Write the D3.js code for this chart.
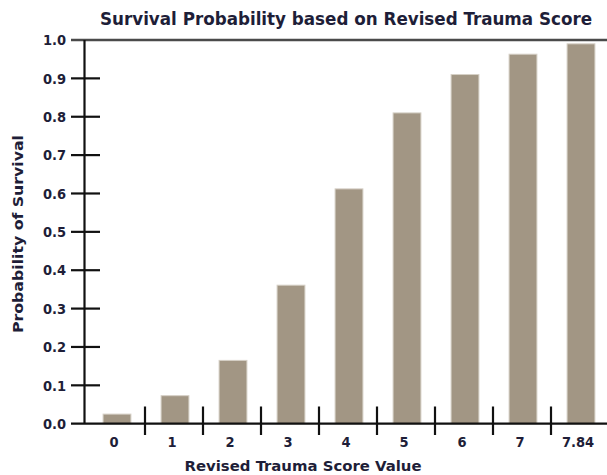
<!DOCTYPE html>
<html><head><meta charset="utf-8">
<script src="https://cdn.jsdelivr.net/npm/d3@7"></script>
<style>
html,body{margin:0;padding:0;background:#fff;}
text{font-family:"DejaVu Sans Condensed","Liberation Sans Narrow","DejaVu Sans",sans-serif;font-weight:bold;fill:#1e1e38;}
</style></head>
<body>
<script>
const categories = ["0","1","2","3","4","5","6","7","7.84"];
const survival = [0.025, 0.073, 0.165, 0.361, 0.612, 0.81, 0.91, 0.963, 0.99];
const yTicks = [0,0.1,0.2,0.3,0.4,0.5,0.6,0.7,0.8,0.9,1.0];
const title = "Survival Probability based on Revised Trauma Score";
const xTitle = "Revised Trauma Score Value";
const yTitle = "Probability of Survival";

const W = 607, H = 475;
const svg = d3.select("body").append("svg").attr("width", W).attr("height", H);

const x = d3.scaleBand().domain(categories).range([87, 609]).paddingInner(0.52).paddingOuter(0.26);
const y = d3.scaleLinear().domain([0, 1]).range([423.7, 40]);
const axisX = 84.5;

// bars
svg.append("g").selectAll("rect").data(categories).join("rect")
  .attr("x", d => x(d) + 1)
  .attr("width", x.bandwidth())
  .attr("y", (d, i) => y(survival[i]))
  .attr("height", (d, i) => y(0) - y(survival[i]))
  .attr("fill", "#a29684")
  .attr("stroke", "#d6d0c6")
  .attr("stroke-width", 1);

// top line (1.0)
svg.append("line").attr("x1", 71).attr("x2", W).attr("y1", y(1)).attr("y2", y(1))
  .attr("stroke", "#4a4a4a").attr("stroke-width", 2.4);
// baseline (0.0)
svg.append("line").attr("x1", 71).attr("x2", W).attr("y1", y(0)).attr("y2", y(0))
  .attr("stroke", "#111").attr("stroke-width", 2.2);
// y axis line
svg.append("line").attr("x1", axisX).attr("x2", axisX).attr("y1", y(1)).attr("y2", y(0))
  .attr("stroke", "#111").attr("stroke-width", 2.2);

// y ticks
svg.append("g").selectAll("line").data(yTicks.filter(t => t > 0 && t < 1)).join("line")
  .attr("x1", 71).attr("x2", 100).attr("y1", d => y(d)).attr("y2", d => y(d))
  .attr("stroke", "#111").attr("stroke-width", 2.2);
svg.append("g").selectAll("text").data(yTicks).join("text")
  .attr("x", 66).attr("y", d => y(d)).attr("dy", "0.36em")
  .attr("text-anchor", "end").attr("font-size", 14.5)
  .text(d => d3.format(".1f")(d));

// x ticks between bands
const step = x.step();
const x0 = x.range()[0];
svg.append("g").selectAll("line").data(categories.slice(1)).join("line")
  .attr("x1", (d, i) => x0 + (i + 1) * step).attr("x2", (d, i) => x0 + (i + 1) * step)
  .attr("y1", 406.5).attr("y2", 435)
  .attr("stroke", "#111").attr("stroke-width", 2.2);

svg.append("g").selectAll("text").data(categories).join("text")
  .attr("x", d => x(d) + x.bandwidth() / 2 - 2)
  .attr("y", 447).attr("text-anchor", "middle").attr("font-size", 14.5)
  .text(d => d);

// titles
svg.append("text").attr("x", 346).attr("y", 25).attr("text-anchor", "middle")
  .attr("font-size", 17).attr("textLength", 492).attr("lengthAdjust", "spacingAndGlyphs")
  .text(title);
svg.append("text").attr("x", 303).attr("y", 471).attr("text-anchor", "middle")
  .attr("font-size", 14.5).attr("textLength", 237).attr("lengthAdjust", "spacingAndGlyphs")
  .text(xTitle);
svg.append("text").attr("transform", "translate(23,234) rotate(-90)").attr("text-anchor", "middle")
  .attr("font-size", 14).attr("textLength", 198).attr("lengthAdjust", "spacingAndGlyphs")
  .text(yTitle);
</script>
</body></html>
